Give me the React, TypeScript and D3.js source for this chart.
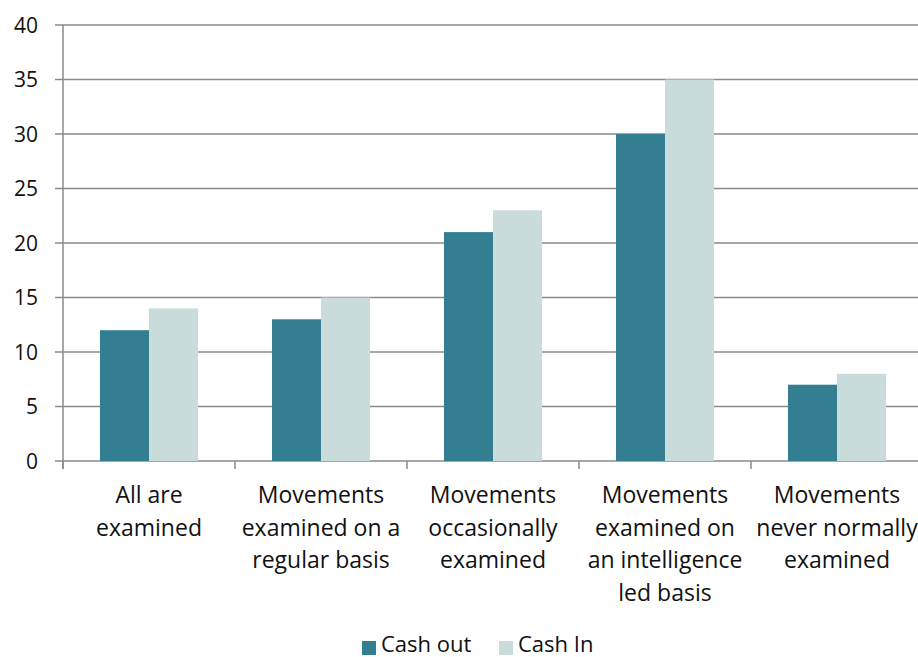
import React, { useEffect, useRef } from "react";
import * as d3 from "d3";

// categorias (rótulos com quebra de linha)
const categories = [
  ["All are", "examined"],
  ["Movements", "examined on a", "regular basis"],
  ["Movements", "occasionally", "examined"],
  ["Movements", "examined on", "an intelligence", "led basis"],
  ["Movements", "never normally", "examined"],
];
const seriesNames = ["Cash out", "Cash In"];
const cashOut = [12, 13, 21, 30, 7];
const cashIn = [14, 15, 23, 35, 8];
const yTicks = [0, 5, 10, 15, 20, 25, 30, 35, 40];

const colors: Record<string, string> = {
  "Cash out": "#337f91",
  "Cash In": "#c9dbda",
};

const FONT = "'Open Sans', sans-serif";

const App = () => {
  const svgRef = useRef<SVGSVGElement | null>(null);
  const width = 918;
  const height = 657;

  useEffect(() => {
    const svg = d3.select(svgRef.current);
    svg.selectAll("*").remove();

    const left = 63;
    const top = 25;
    const bottom = 461;
    const right = 923;

    const keys = categories.map((c, i) => String(i));
    const data = keys.map((k, i) => ({ key: k, values: [cashOut[i], cashIn[i]] }));

    const x0 = d3.scaleBand().domain(keys).range([left, right]).padding(0);
    const x1 = d3
      .scaleBand()
      .domain(seriesNames)
      .range([0, x0.bandwidth()])
      .paddingInner(0)
      .paddingOuter(0.755);
    const y = d3.scaleLinear().domain([0, 40]).range([bottom, top]);

    // linhas de grade
    svg
      .append("g")
      .selectAll("line")
      .data(yTicks)
      .enter()
      .append("line")
      .attr("x1", left - 8)
      .attr("x2", width)
      .attr("y1", (d) => y(d))
      .attr("y2", (d) => y(d))
      .attr("stroke", "#8a8a8a")
      .attr("stroke-width", 1.5);

    // rótulos do eixo Y
    svg
      .append("g")
      .selectAll("text")
      .data(yTicks)
      .enter()
      .append("text")
      .attr("x", 38)
      .attr("y", (d) => y(d))
      .attr("dy", "0.36em")
      .attr("text-anchor", "end")
      .style("font-family", FONT)
      .style("font-size", "21px")
      .style("fill", "#111")
      .text((d) => d);

    // barras
    const groups = svg
      .append("g")
      .selectAll("g")
      .data(data)
      .enter()
      .append("g")
      .attr("transform", (d) => `translate(${x0(d.key)},0)`);

    groups
      .selectAll("rect")
      .data((d) => d.values.map((v, j) => ({ name: seriesNames[j], value: v })))
      .enter()
      .append("rect")
      .attr("x", (d) => x1(d.name) as number)
      .attr("y", (d) => y(d.value))
      .attr("width", x1.bandwidth())
      .attr("height", (d) => bottom - y(d.value))
      .attr("fill", (d) => colors[d.name]);

    // eixo Y (linha vertical)
    svg
      .append("line")
      .attr("x1", left)
      .attr("x2", left)
      .attr("y1", top)
      .attr("y2", bottom + 8)
      .attr("stroke", "#8a8a8a")
      .attr("stroke-width", 1.5);

    // marcas do eixo X
    const boundaries = keys.map((k) => x0(k) as number);
    svg
      .append("g")
      .selectAll("line")
      .data(boundaries)
      .enter()
      .append("line")
      .attr("x1", (d) => d)
      .attr("x2", (d) => d)
      .attr("y1", bottom)
      .attr("y2", bottom + 8)
      .attr("stroke", "#8a8a8a")
      .attr("stroke-width", 1.5);

    // rótulos das categorias
    const labels = svg
      .append("g")
      .selectAll("text")
      .data(keys)
      .enter()
      .append("text")
      .attr("x", (d) => (x0(d) as number) + x0.bandwidth() / 2)
      .attr("y", 503)
      .attr("text-anchor", "middle")
      .style("font-family", FONT)
      .style("font-size", "23px")
      .style("fill", "#111");

    labels
      .selectAll("tspan")
      .data((d) => categories[+d])
      .enter()
      .append("tspan")
      .attr("x", function () {
        return (this.parentNode as SVGTextElement).getAttribute("x");
      })
      .attr("dy", (d, i) => (i === 0 ? 0 : 32.5))
      .text((d) => d);

    // legenda
    const legendItems = [
      { name: "Cash out", x: 362 },
      { name: "Cash In", x: 499 },
    ];
    const legend = svg
      .append("g")
      .selectAll("g")
      .data(legendItems)
      .enter()
      .append("g");
    legend
      .append("rect")
      .attr("x", (d) => d.x)
      .attr("y", 641)
      .attr("width", 14)
      .attr("height", 14)
      .attr("fill", (d) => colors[d.name]);
    legend
      .append("text")
      .attr("x", (d) => d.x + 19)
      .attr("y", 652)
      .style("font-family", FONT)
      .style("font-size", "22px")
      .style("fill", "#111")
      .text((d) => d.name);
  }, []);

  return (
    <div style={{ position: "fixed", left: 0, top: 0, background: "#fff" }}>
      <svg ref={svgRef} width={width} height={height} style={{ display: "block" }}></svg>
    </div>
  );
};

export default App;
